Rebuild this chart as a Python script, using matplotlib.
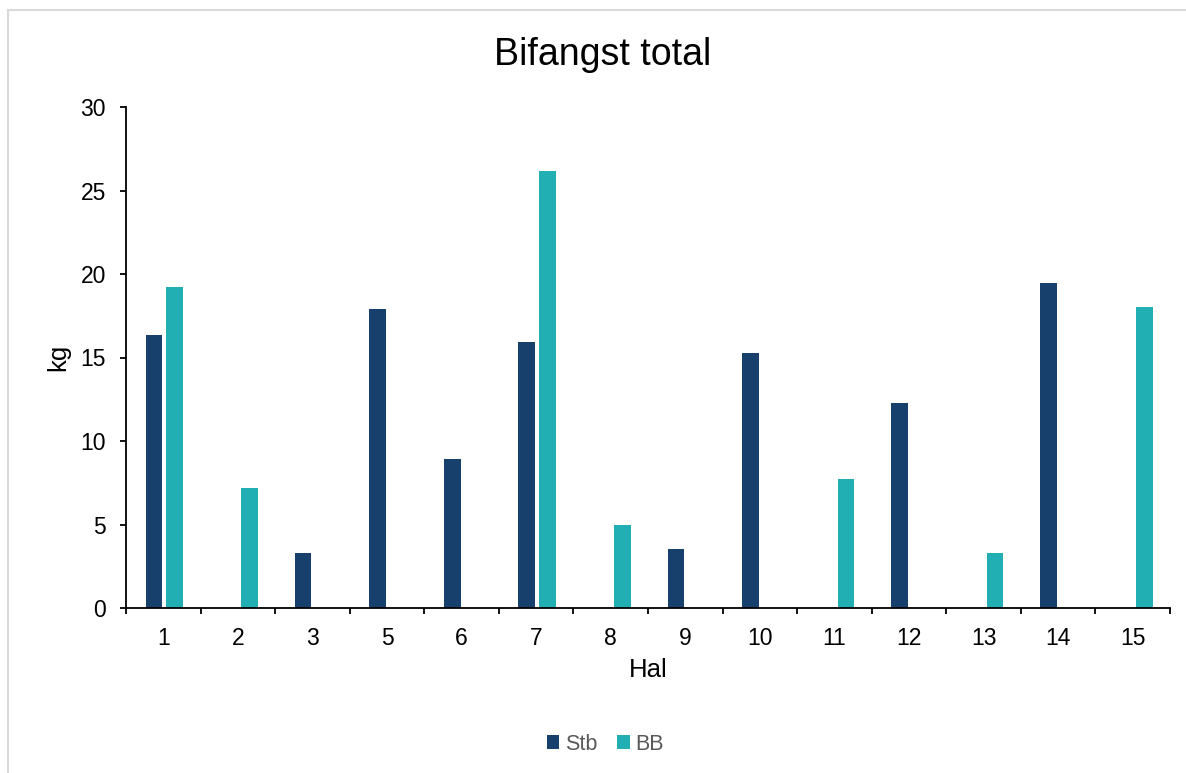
import matplotlib
matplotlib.use("Agg")
import matplotlib.pyplot as plt
import numpy as np
from matplotlib.patches import Rectangle

plt.rcParams['font.family'] = ['Liberation Sans', 'DejaVu Sans']

# bycatch per haul (kg)
hauls = ['1', '2', '3', '5', '6', '7', '8', '9', '10', '11', '12', '13', '14', '15']
stb = [16.35, 0, 3.3, 17.9, 8.9, 15.9, 0, 3.55, 15.25, 0, 12.3, 0, 19.45, 0]
bb = [19.2, 7.2, 0, 0, 0, 26.15, 5.0, 0, 0, 7.75, 0, 3.3, 0, 18.05]

STB_COL = '#17406d'
BB_COL = '#22afb3'

fig = plt.figure(figsize=(11.86, 7.73), dpi=100)
ax = fig.add_axes([126 / 1186, 1 - 608 / 773, (1170 - 126) / 1186, (608 - 107) / 773])

x = np.arange(len(hauls))
w = 0.224
ax.bar(x - 0.125, stb, w, color=STB_COL, label='Stb')
ax.bar(x + 0.155, bb, w, color=BB_COL, label='BB')

ax.set_xlim(-0.5, len(hauls) - 0.5)
ax.set_ylim(0, 30)
ax.set_yticks(range(0, 31, 5))
# ticks between categories, labels centred under them
ax.set_xticks(np.arange(len(hauls) + 1) - 0.5)
ax.set_xticklabels([])
ax.set_xticks(x, minor=True)
ax.set_xticklabels(hauls, minor=True)
ax.tick_params(axis='x', which='minor', length=0, labelsize=16.5, pad=14)
ax.tick_params(axis='x', which='major', length=4.5, width=1.3, direction='out', color='black')
ax.tick_params(axis='y', length=4.5, width=1.3, labelsize=16.5, pad=10)
for side in ['top', 'right']:
    ax.spines[side].set_visible(False)
for side in ['left', 'bottom']:
    ax.spines[side].set_linewidth(1.3)

fig.text(603 / 1186, 1 - 65 / 773, 'Bifangst total', fontsize=27, ha='center', va='baseline')
ax.set_ylabel('kg', fontsize=18.5)
ax.yaxis.set_label_coords(-0.053, 0.5)
ax.set_xlabel('Hal', fontsize=18.5)
ax.xaxis.set_label_coords(0.5, -0.10)

leg = fig.legend(loc='center', bbox_to_anchor=(605 / 1186, 1 - 744 / 773), ncol=2,
                 frameon=False, fontsize=15.5, handlelength=0.6, handleheight=0.6,
                 handletextpad=0.25, columnspacing=0.9)
for t in leg.get_texts():
    t.set_color('#595959')

# outer chart border, runs off the right and bottom edges
fig.patches.append(Rectangle((7.5 / 1186, -0.1), 1.2, 1 - 10.5 / 773 + 0.1,
                             transform=fig.transFigure, fill=False,
                             edgecolor='#d9d9d9', linewidth=1.5))

fig.savefig('out.png', dpi=100)
